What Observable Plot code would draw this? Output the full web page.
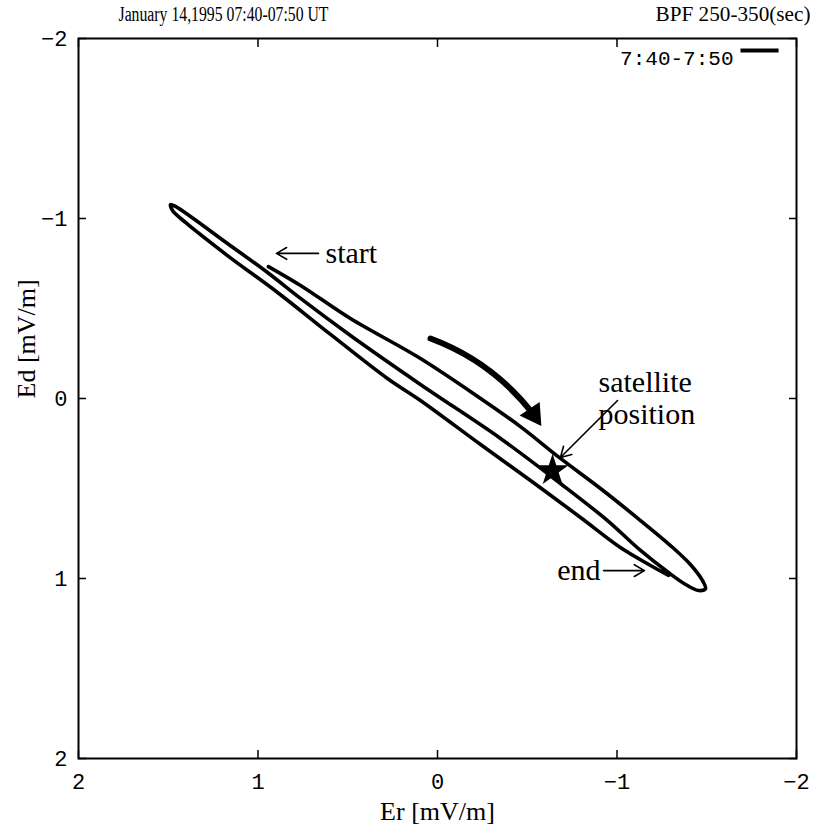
<!DOCTYPE html>
<html><head><meta charset="utf-8">
<script src="https://cdn.jsdelivr.net/npm/d3@7"></script>
<script src="https://cdn.jsdelivr.net/npm/@observablehq/plot@0.6"></script>
<style>body{margin:0;background:#fff}</style>
</head><body><div id="chart"></div>
<script>
// Hodogram trace: Er (radial) and Ed (dawn) electric field, mV/m
const er = [0.942,0.763,0.485,0.095,-0.240,-0.462,-0.685,-0.908,-1.131,-1.298,-1.409,-1.476,-1.493,-1.454,-1.382,-1.287,-1.131,-0.947,-0.685,-0.351,0.095,0.485,0.763,0.947,1.170,1.376,1.460,1.487,1.476,1.404,1.170,0.891,0.596,0.279,0.095,-0.240,-0.518,-0.797,-1.019,-1.187,-1.287];
const ed = [-0.733,-0.628,-0.444,-0.222,0.000,0.156,0.333,0.500,0.678,0.817,0.922,1.011,1.056,1.067,1.033,0.967,0.844,0.678,0.472,0.222,-0.078,-0.350,-0.556,-0.700,-0.861,-1.011,-1.067,-1.078,-1.044,-0.978,-0.794,-0.589,-0.356,-0.111,0.011,0.256,0.456,0.661,0.828,0.928,0.983];
const xTicks = [2, 1, 0, -1, -2];
const yTicks = [-2, -1, 0, 1, 2];
const titleLeft = "January 14,1995 07:40-07:50 UT";
const titleRight = "BPF 250-350(sec)";
const xLabel = "Er [mV/m]";
const yLabel = "Ed [mV/m]";
const legendLabel = "7:40-7:50";
// annotations (data coordinates)
const notesLeft = [
  {text: "start", er: 0.624, ed: -0.811},
  {text: "satellite\nposition", er: -0.897, ed: -0.003}
];
const notesRight = [{text: "end", er: -0.908, ed: 0.956}];
const pointers = [
  {er1: 0.663, ed1: -0.806, er2: 0.897, ed2: -0.806},
  {er1: -1.003, ed1: 0.011, er2: -0.685, ed2: 0.328},
  {er1: -0.925, ed1: 0.956, er2: -1.153, ed2: 0.956}
];
const motion = [{er1: 0.039, ed1: -0.333, er2: -0.535, ed2: 0.089}];
const motionHead = [{er: -0.535, ed: 0.089, angle: 146}];
const satellite = [{er: -0.641, ed: 0.40}];
const legendLine = [{er1: -1.688, er2: -1.900, ed: -1.933}];

const idx = d3.range(er.length);
const serif = "Liberation Serif";
const mono = "Liberation Mono";
const fmt = d => (d < 0 ? "\u2212" : "") + Math.abs(d);

const chart = Plot.plot({
  width: 813, height: 828,
  marginTop: 38, marginLeft: 78, marginRight: 17, marginBottom: 70,
  style: {fontFamily: mono, fontSize: "22px", color: "black", background: "white"},
  x: {domain: [2, -2], label: null},
  y: {domain: [2, -2], label: null},
  marks: [
    Plot.axisX(xTicks, {anchor: "bottom", tickSize: -8, tickFormat: () => "", label: null, strokeWidth: 1.5}),
    Plot.axisX(xTicks, {anchor: "top", tickSize: -8, tickFormat: () => "", label: null, strokeWidth: 1.5}),
    Plot.axisY(yTicks, {anchor: "left", tickSize: -8, tickFormat: () => "", label: null, strokeWidth: 1.5}),
    Plot.axisY(yTicks, {anchor: "right", tickSize: -8, tickFormat: () => "", label: null, strokeWidth: 1.5}),
    Plot.axisX(xTicks, {anchor: "bottom", tickSize: 0, tickPadding: 15, tickFormat: fmt, label: null, fontFamily: mono, fontSize: 22}),
    Plot.axisY(yTicks, {anchor: "left", tickSize: 0, tickPadding: 11, tickFormat: fmt, label: null, fontFamily: mono, fontSize: 22}),
    Plot.frame({strokeWidth: 2}),
    Plot.line(idx, {x: i => er[i], y: i => ed[i], curve: "catmull-rom", stroke: "black", strokeWidth: 3.6}),
    Plot.dot(satellite, {x: "er", y: "ed", symbol: "star", r: 10, fill: "black"}),
    Plot.arrow(pointers, {x1: "er1", y1: "ed1", x2: "er2", y2: "ed2", stroke: "black", strokeWidth: 1.6, headLength: 11}),
    Plot.arrow(motion, {x1: "er1", y1: "ed1", x2: "er2", y2: "ed2", bend: 16, stroke: "black", strokeWidth: 6, headLength: 0}),
    Plot.dot(motionHead, {x: "er", y: "ed", symbol: "triangle", r: 9, fill: "black", rotate: "angle"}),
    Plot.text(notesLeft, {x: "er", y: "ed", text: "text", textAnchor: "start", fontFamily: serif, fontSize: 30, lineHeight: 1.05}),
    Plot.text(notesRight, {x: "er", y: "ed", text: "text", textAnchor: "end", fontFamily: serif, fontSize: 30}),
    Plot.link(legendLine, {x1: "er1", x2: "er2", y1: "ed", y2: "ed", stroke: "black", strokeWidth: 4}),
    Plot.text([legendLabel], {frameAnchor: "top-right", dx: -63, dy: 20, lineAnchor: "middle", textAnchor: "end", fontFamily: mono, fontSize: 21}),
    Plot.text([titleLeft], {frameAnchor: "top-left", dx: 40, dy: -24, lineAnchor: "middle", textAnchor: "start", fontFamily: serif, fontSize: 20}),
    Plot.text([titleRight], {frameAnchor: "top-right", dx: 14, dy: -24, lineAnchor: "middle", textAnchor: "end", fontFamily: serif, fontSize: 20}),
    Plot.text([xLabel], {frameAnchor: "bottom", dy: 53, lineAnchor: "middle", fontFamily: serif, fontSize: 26}),
    Plot.text([yLabel], {frameAnchor: "left", dx: -52, rotate: -90, lineAnchor: "middle", fontFamily: serif, fontSize: 26})
  ]
});
d3.select(chart).selectAll("text").each(function() {
  const t = this.textContent;
  if (t === titleLeft) d3.select(this).attr("textLength", 210).attr("lengthAdjust", "spacingAndGlyphs");
  if (t === titleRight) d3.select(this).attr("textLength", 155).attr("lengthAdjust", "spacingAndGlyphs");
});
document.getElementById("chart").append(chart);
</script>
</body></html>
